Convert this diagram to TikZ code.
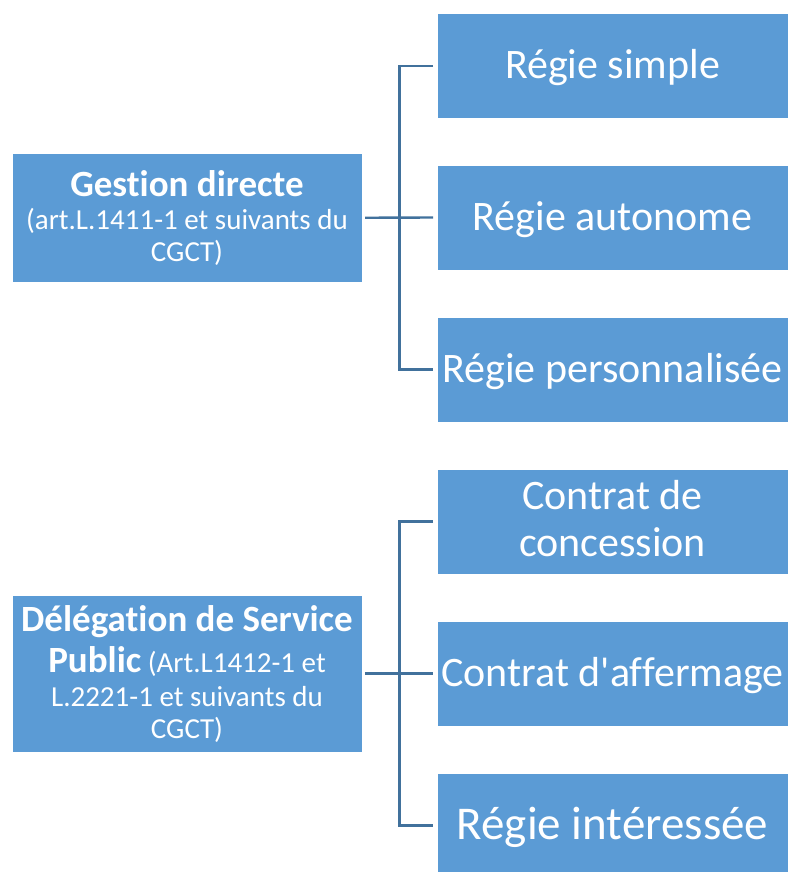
\documentclass[tikz,border=0pt]{standalone}
\usepackage{fontspec}
\setmainfont{Carlito}
\newfontfamily\carl{Carlito}[Ligatures=CommonOff]
\definecolor{boxblue}{HTML}{5B9BD5}
\definecolor{lineblue}{HTML}{41719C}
\tikzset{
  box/.style={rectangle, fill=boxblue, draw=white, line width=1pt, outer sep=0pt,
    inner sep=0pt, text=white, align=flush center},
  lbox/.style={box, minimum width=350pt, text width=350pt,
    font=\carl\fontsize{29}{0}\selectfont},
  rbox/.style={box, minimum width=351pt, text width=351pt, minimum height=105pt,
    font=\carl\fontsize{42}{0}\selectfont,
    text height=33.6pt, text depth=8.4pt},
  conn/.style={draw=lineblue, line width=2.4pt},
}
\newcommand\ttl[1]{{\fontsize{37}{0}\selectfont\bfseries #1}}
\newcommand\zl{\baselineskip=0pt\lineskip=0pt\lineskiplimit=-1000pt\relax}
\begin{document}
\begin{tikzpicture}[x=1pt, y=-1pt]
\useasboundingbox (0,0) rectangle (788,872);
% top group
\node[lbox, minimum height=129pt, text height=28pt, text depth=71.4pt] (GD) at (187,217.75)
  {\zl\ttl{Gestion directe}\\[33.8pt](art.L.1411-1 et suivants du\\[31.9pt]CGCT)\par};
\node[rbox] (RS) at (612.5,65.75) {Régie simple};
\node[rbox] (RA) at (612.5,217.5) {Régie autonome};
\node[rbox] (RP) at (612.5,369.5) {Régie personnalisée};
% bottom group
\node[lbox, minimum height=157pt, text height=28pt, text depth=111.6pt] (DSP) at (187,673.5)
  {\zl\ttl{Délégation de Service}\\[40.7pt]\ttl{Public} (Art.L1412-1 et\\[33.8pt]L.2221-1 et suivants du\\[31.9pt]CGCT)\par};
\node[rbox, text depth=57pt] (CC) at (612.5,521.5) {\zl Contrat de\\[46.7pt]concession\par};
\node[rbox] (CA) at (612.5,673.5) {Contrat d'affermage};
\node[rbox, font=\carl\fontsize{47}{0}\selectfont, text height=37.6pt, text depth=9.4pt] (RI) at (612.5,825.5) {Régie intéressée};
% connectors
\draw[conn] ([xshift=3pt]GD.east) -- ([xshift=-4pt]RA.west);
\draw[conn] ([xshift=-4pt]RS.west) -- ++(-33.5,0) |- ([xshift=-4pt]RP.west);
\draw[conn] ([xshift=3pt]DSP.east) -- ([xshift=-4pt]CA.west);
\draw[conn] ([xshift=-4pt]CC.west) -- ++(-33.5,0) |- ([xshift=-4pt]RI.west);
\end{tikzpicture}
\end{document}
